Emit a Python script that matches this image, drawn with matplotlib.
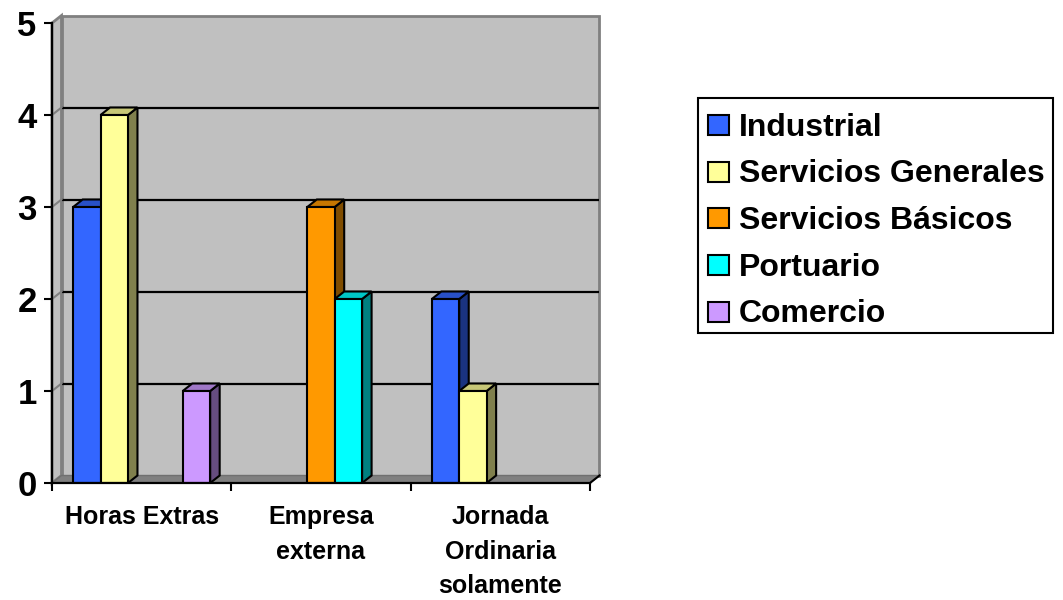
import matplotlib
matplotlib.use("Agg")
import matplotlib.pyplot as plt
from matplotlib.patches import Polygon, Rectangle
from matplotlib.colors import to_rgb

# ---- data ----
categories = ["Horas Extras", "Empresa\nexterna", "Jornada\nOrdinaria\nsolamente"]
series_names = ["Industrial", "Servicios Generales", "Servicios Básicos", "Portuario", "Comercio"]
industrial = [3, 0, 2]
servicios_generales = [4, 0, 1]
servicios_basicos = [0, 3, 0]
portuario = [0, 2, 0]
comercio = [1, 0, 0]
series_values = [industrial, servicios_generales, servicios_basicos, portuario, comercio]
y_ticks = [0, 1, 2, 3, 4, 5]

colors = ["#3366FF", "#FFFF99", "#FF9900", "#00FFFF", "#CC99FF"]

plt.rcParams['font.family'] = ['Liberation Sans', 'DejaVu Sans']

W, H = 1063, 600
fig = plt.figure(figsize=(W / 100, H / 100), dpi=100)

# pixel geometry of the front plane
x_left, x_right = 52, 590
y_zero, y_five = 483, 23
dx_px, dy_px = 9.5, 7.5
ncat = len(categories)
ppu_x = (x_right - x_left) / ncat
ppu_y = (y_zero - y_five) / 5.0
DX = dx_px / ppu_x
DY = dy_px / ppu_y
ymax = 5

ax = fig.add_axes([x_left / W, 1 - y_zero / H,
                   (x_right + dx_px - x_left) / W, (y_zero - y_five + dy_px) / H])
ax.set_xlim(0, ncat + DX)
ax.set_ylim(0, ymax + DY)
ax.patch.set_visible(False)

wall = "#C0C0C0"
wall_edge = "#808080"
# back wall
ax.add_patch(Polygon([(DX, DY), (ncat + DX, DY), (ncat + DX, ymax + DY), (DX, ymax + DY)],
                     closed=True, facecolor=wall, edgecolor=wall_edge, lw=2, zorder=0, clip_on=False))
# left wall
ax.add_patch(Polygon([(0, 0), (0, ymax), (DX, ymax + DY), (DX, DY)],
                     closed=True, facecolor=wall, edgecolor=wall_edge, lw=2, zorder=0.5, clip_on=False))
# floor
ax.add_patch(Polygon([(0, 0), (ncat, 0), (ncat + DX, DY), (DX, DY)],
                     closed=True, facecolor="#808080", edgecolor="#707070", lw=1, zorder=0.6, clip_on=False))
# gridlines
for yv in y_ticks[1:-1]:
    ax.plot([DX, ncat + DX], [yv + DY, yv + DY], color="black", lw=1.6, zorder=1, solid_capstyle="butt")
    ax.plot([0, DX], [yv, yv + DY], color=wall_edge, lw=1.5, zorder=1)
# right end diagonal of the floor
ax.plot([ncat, ncat + DX], [0, DY], color="black", lw=1.5, zorder=2, clip_on=False)


def shade(c, f):
    r, g, b = to_rgb(c)
    return (r * f, g * f, b * f)


nser = len(series_names)
bw = 0.1528
gap = (1 - nser * bw) / 2
z = 3
for ci in range(ncat):
    for si in range(nser):
        v = series_values[si][ci]
        if v == 0:
            continue
        x0 = ci + gap + si * bw
        c = colors[si]
        ec = "black"
        # side face
        ax.add_patch(Polygon([(x0 + bw, 0), (x0 + bw + DX, DY), (x0 + bw + DX, v + DY), (x0 + bw, v)],
                             closed=True, facecolor=shade(c, 0.5), edgecolor=ec, lw=1.5,
                             joinstyle="miter", zorder=z))
        # top face
        ax.add_patch(Polygon([(x0, v), (x0 + bw, v), (x0 + bw + DX, v + DY), (x0 + DX, v + DY)],
                             closed=True, facecolor=shade(c, 0.78), edgecolor=ec, lw=1.5,
                             joinstyle="miter", zorder=z))
        # front face
        ax.add_patch(Rectangle((x0, 0), bw, v, facecolor=c, edgecolor=ec, lw=1.5,
                               joinstyle="miter", zorder=z + 0.1))
        z += 1

# axes spines / ticks
for s in ["top", "right"]:
    ax.spines[s].set_visible(False)
ax.spines["left"].set_bounds(0, ymax)
ax.spines["bottom"].set_bounds(0, ncat)
for s in ["left", "bottom"]:
    ax.spines[s].set_linewidth(1.6)
    ax.spines[s].set_color("black")
    ax.spines[s].set_zorder(50)

ax.set_yticks(y_ticks)
ax.set_yticklabels([str(t) for t in y_ticks], fontsize=25, fontweight="bold")
ax.tick_params(axis="y", direction="out", length=6, width=1.5, pad=5)

ax.set_xticks(range(ncat + 1))
ax.set_xticklabels([""] * (ncat + 1))
ax.set_xticks([i + 0.5 for i in range(ncat)], minor=True)
ax.set_xticklabels(categories, minor=True, fontsize=18, fontweight="bold", linespacing=1.55)
ax.tick_params(axis="x", which="major", direction="out", length=6, width=1.5)
ax.tick_params(axis="x", which="minor", length=0, pad=16)

# ---- legend (manual, in pixel coordinates) ----
lx0, ly0, lx1, ly1 = 698, 98, 1053, 333
fig.add_artist(Rectangle((lx0 / W, 1 - ly1 / H), (lx1 - lx0) / W, (ly1 - ly0) / H,
                         transform=fig.transFigure, facecolor="white", edgecolor="black", lw=1.5))
row0, rowstep = 125, 46.7
for i, name in enumerate(series_names):
    yc = row0 + i * rowstep
    fig.add_artist(Rectangle((708 / W, 1 - (yc + 10) / H), 21 / W, 20 / H,
                             transform=fig.transFigure, facecolor=colors[i], edgecolor="black", lw=1.5))
    fig.text(739 / W, 1 - (yc + 10.5) / H, name, fontsize=23, fontweight="bold",
             ha="left", va="baseline")

fig.savefig("out.png", dpi=100)
